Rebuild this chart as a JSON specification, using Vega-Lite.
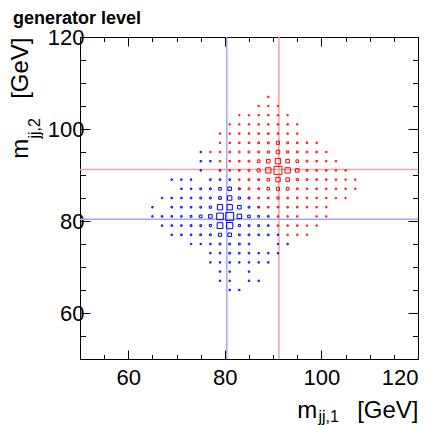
{
  "$schema": "https://vega.github.io/schema/vega-lite/v6.json",
  "width": 338,
  "height": 322,
  "autosize": "none",
  "padding": {"left": 80, "top": 37, "right": 22, "bottom": 66},
  "background": "white",
  "title": {"text": "generator level", "anchor": "start", "frame": "group", "dx": -67, "dy": 32, "offset": 16, "baseline": "alphabetic", "fontSize": 18, "fontWeight": "bold", "font": "Liberation Sans", "color": "#000"},
  "config": {
    "font": "Liberation Sans",
    "view": {"stroke": "#000", "strokeWidth": 1},
    "axis": {"grid": false, "domain": false, "tickColor": "#000", "tickWidth": 1, "labelColor": "#000", "titleColor": "#000", "labelFont": "Liberation Sans", "titleFont": "Liberation Sans", "labelFontSize": 22, "titleFontWeight": "normal", "labelOverlap": false}
  },
  "datasets": {
    "lines": [{"s": "W", "m": 80.4}, {"s": "Z", "m": 91.2}],
    "cells": [
      {"s":"W","x":75,"y":95,"n":25},
      {"s":"W","x":75,"y":93,"n":25},{"s":"W","x":77,"y":93,"n":25},
      {"s":"W","x":75,"y":91,"n":25},{"s":"W","x":79,"y":91,"n":25},
      {"s":"W","x":69,"y":89,"n":25},{"s":"W","x":71,"y":89,"n":25},{"s":"W","x":73,"y":89,"n":25},{"s":"W","x":77,"y":89,"n":30},{"s":"W","x":79,"y":89,"n":30},{"s":"W","x":81,"y":89,"n":30},
      {"s":"W","x":71,"y":87,"n":25},{"s":"W","x":73,"y":87,"n":30},{"s":"W","x":75,"y":87,"n":40},{"s":"W","x":77,"y":87,"n":40},{"s":"W","x":79,"y":87,"n":90},{"s":"W","x":81,"y":87,"n":160},{"s":"W","x":83,"y":87,"n":40},
      {"s":"W","x":67,"y":85,"n":25},{"s":"W","x":69,"y":85,"n":30},{"s":"W","x":71,"y":85,"n":30},{"s":"W","x":73,"y":85,"n":30},{"s":"W","x":75,"y":85,"n":40},{"s":"W","x":77,"y":85,"n":40},{"s":"W","x":79,"y":85,"n":90},{"s":"W","x":81,"y":85,"n":250},{"s":"W","x":83,"y":85,"n":60},{"s":"W","x":85,"y":85,"n":40},
      {"s":"W","x":65,"y":83,"n":25},{"s":"W","x":69,"y":83,"n":30},{"s":"W","x":71,"y":83,"n":30},{"s":"W","x":73,"y":83,"n":30},{"s":"W","x":75,"y":83,"n":40},{"s":"W","x":77,"y":83,"n":60},{"s":"W","x":79,"y":83,"n":360},{"s":"W","x":81,"y":83,"n":360},{"s":"W","x":83,"y":83,"n":160},{"s":"W","x":85,"y":83,"n":40},{"s":"W","x":87,"y":83,"n":30},
      {"s":"W","x":65,"y":81,"n":25},{"s":"W","x":67,"y":81,"n":30},{"s":"W","x":69,"y":81,"n":30},{"s":"W","x":71,"y":81,"n":30},{"s":"W","x":73,"y":81,"n":40},{"s":"W","x":75,"y":81,"n":90},{"s":"W","x":77,"y":81,"n":160},{"s":"W","x":79,"y":81,"n":560},{"s":"W","x":81,"y":81,"n":810},{"s":"W","x":83,"y":81,"n":250},{"s":"W","x":85,"y":81,"n":90},{"s":"W","x":87,"y":81,"n":40},{"s":"W","x":89,"y":81,"n":30},
      {"s":"W","x":67,"y":79,"n":25},{"s":"W","x":69,"y":79,"n":30},{"s":"W","x":71,"y":79,"n":30},{"s":"W","x":73,"y":79,"n":40},{"s":"W","x":75,"y":79,"n":40},{"s":"W","x":77,"y":79,"n":60},{"s":"W","x":79,"y":79,"n":420},{"s":"W","x":81,"y":79,"n":490},{"s":"W","x":83,"y":79,"n":60},{"s":"W","x":85,"y":79,"n":40},{"s":"W","x":87,"y":79,"n":40},{"s":"W","x":89,"y":79,"n":30},
      {"s":"W","x":69,"y":77,"n":25},{"s":"W","x":71,"y":77,"n":30},{"s":"W","x":73,"y":77,"n":30},{"s":"W","x":75,"y":77,"n":40},{"s":"W","x":77,"y":77,"n":40},{"s":"W","x":79,"y":77,"n":120},{"s":"W","x":81,"y":77,"n":160},{"s":"W","x":83,"y":77,"n":40},{"s":"W","x":85,"y":77,"n":40},{"s":"W","x":87,"y":77,"n":30},{"s":"W","x":89,"y":77,"n":30},{"s":"W","x":91,"y":77,"n":25},
      {"s":"W","x":73,"y":75,"n":25},{"s":"W","x":75,"y":75,"n":25},{"s":"W","x":77,"y":75,"n":30},{"s":"W","x":79,"y":75,"n":40},{"s":"W","x":81,"y":75,"n":40},{"s":"W","x":83,"y":75,"n":40},{"s":"W","x":85,"y":75,"n":30},{"s":"W","x":91,"y":75,"n":25},{"s":"W","x":93,"y":75,"n":25},
      {"s":"W","x":77,"y":73,"n":25},{"s":"W","x":79,"y":73,"n":30},{"s":"W","x":81,"y":73,"n":40},{"s":"W","x":83,"y":73,"n":30},{"s":"W","x":85,"y":73,"n":30},{"s":"W","x":87,"y":73,"n":25},{"s":"W","x":89,"y":73,"n":25},{"s":"W","x":91,"y":73,"n":25},
      {"s":"W","x":77,"y":71,"n":25},{"s":"W","x":79,"y":71,"n":25},{"s":"W","x":81,"y":71,"n":30},{"s":"W","x":83,"y":71,"n":25},{"s":"W","x":85,"y":71,"n":25},{"s":"W","x":87,"y":71,"n":25},{"s":"W","x":89,"y":71,"n":25},
      {"s":"W","x":79,"y":69,"n":25},{"s":"W","x":81,"y":69,"n":25},{"s":"W","x":85,"y":69,"n":25},
      {"s":"W","x":79,"y":67,"n":25},{"s":"W","x":81,"y":67,"n":25},{"s":"W","x":85,"y":67,"n":25},{"s":"W","x":87,"y":67,"n":25},
      {"s":"W","x":81,"y":65,"n":25},{"s":"W","x":83,"y":65,"n":25},

      {"s":"Z","x":89,"y":107,"n":20},
      {"s":"Z","x":87,"y":105,"n":20},{"s":"Z","x":89,"y":105,"n":20},{"s":"Z","x":91,"y":105,"n":20},
      {"s":"Z","x":83,"y":103,"n":20},{"s":"Z","x":85,"y":103,"n":20},{"s":"Z","x":87,"y":103,"n":22},{"s":"Z","x":89,"y":103,"n":22},{"s":"Z","x":91,"y":103,"n":22},{"s":"Z","x":93,"y":103,"n":20},
      {"s":"Z","x":81,"y":101,"n":20},{"s":"Z","x":83,"y":101,"n":22},{"s":"Z","x":85,"y":101,"n":25},{"s":"Z","x":87,"y":101,"n":25},{"s":"Z","x":89,"y":101,"n":25},{"s":"Z","x":91,"y":101,"n":25},{"s":"Z","x":93,"y":101,"n":25},{"s":"Z","x":95,"y":101,"n":20},
      {"s":"Z","x":79,"y":99,"n":20},{"s":"Z","x":81,"y":99,"n":22},{"s":"Z","x":83,"y":99,"n":25},{"s":"Z","x":85,"y":99,"n":25},{"s":"Z","x":87,"y":99,"n":30},{"s":"Z","x":89,"y":99,"n":30},{"s":"Z","x":91,"y":99,"n":30},{"s":"Z","x":93,"y":99,"n":25},{"s":"Z","x":95,"y":99,"n":22},
      {"s":"Z","x":79,"y":97,"n":22},{"s":"Z","x":81,"y":97,"n":25},{"s":"Z","x":83,"y":97,"n":30},{"s":"Z","x":85,"y":97,"n":30},{"s":"Z","x":87,"y":97,"n":40},{"s":"Z","x":89,"y":97,"n":40},{"s":"Z","x":91,"y":97,"n":120},{"s":"Z","x":93,"y":97,"n":40},{"s":"Z","x":95,"y":97,"n":30},{"s":"Z","x":97,"y":97,"n":30},{"s":"Z","x":99,"y":97,"n":22},
      {"s":"Z","x":77,"y":95,"n":22},{"s":"Z","x":79,"y":95,"n":25},{"s":"Z","x":81,"y":95,"n":30},{"s":"Z","x":83,"y":95,"n":30},{"s":"Z","x":85,"y":95,"n":40},{"s":"Z","x":87,"y":95,"n":40},{"s":"Z","x":89,"y":95,"n":60},{"s":"Z","x":91,"y":95,"n":160},{"s":"Z","x":93,"y":95,"n":60},{"s":"Z","x":95,"y":95,"n":40},{"s":"Z","x":97,"y":95,"n":30},{"s":"Z","x":99,"y":95,"n":30},{"s":"Z","x":101,"y":95,"n":22},
      {"s":"Z","x":79,"y":93,"n":25},{"s":"Z","x":81,"y":93,"n":30},{"s":"Z","x":83,"y":93,"n":30},{"s":"Z","x":85,"y":93,"n":40},{"s":"Z","x":87,"y":93,"n":90},{"s":"Z","x":89,"y":93,"n":160},{"s":"Z","x":91,"y":93,"n":360},{"s":"Z","x":93,"y":93,"n":160},{"s":"Z","x":95,"y":93,"n":90},{"s":"Z","x":97,"y":93,"n":40},{"s":"Z","x":99,"y":93,"n":30},{"s":"Z","x":101,"y":93,"n":25},{"s":"Z","x":103,"y":93,"n":22},
      {"s":"Z","x":79,"y":91,"n":25},{"s":"Z","x":81,"y":91,"n":30},{"s":"Z","x":83,"y":91,"n":30},{"s":"Z","x":85,"y":91,"n":40},{"s":"Z","x":87,"y":91,"n":120},{"s":"Z","x":89,"y":91,"n":360},{"s":"Z","x":91,"y":91,"n":810},{"s":"Z","x":93,"y":91,"n":360},{"s":"Z","x":95,"y":91,"n":160},{"s":"Z","x":97,"y":91,"n":40},{"s":"Z","x":99,"y":91,"n":30},{"s":"Z","x":101,"y":91,"n":30},{"s":"Z","x":103,"y":91,"n":25},{"s":"Z","x":105,"y":91,"n":22},
      {"s":"Z","x":83,"y":89,"n":25},{"s":"Z","x":85,"y":89,"n":40},{"s":"Z","x":87,"y":89,"n":40},{"s":"Z","x":89,"y":89,"n":90},{"s":"Z","x":91,"y":89,"n":250},{"s":"Z","x":93,"y":89,"n":160},{"s":"Z","x":95,"y":89,"n":60},{"s":"Z","x":97,"y":89,"n":40},{"s":"Z","x":99,"y":89,"n":30},{"s":"Z","x":101,"y":89,"n":30},{"s":"Z","x":103,"y":89,"n":25},{"s":"Z","x":105,"y":89,"n":22},{"s":"Z","x":107,"y":89,"n":20},
      {"s":"Z","x":83,"y":87,"n":25},{"s":"Z","x":85,"y":87,"n":40},{"s":"Z","x":87,"y":87,"n":40},{"s":"Z","x":89,"y":87,"n":90},{"s":"Z","x":91,"y":87,"n":120},{"s":"Z","x":93,"y":87,"n":90},{"s":"Z","x":95,"y":87,"n":40},{"s":"Z","x":97,"y":87,"n":30},{"s":"Z","x":99,"y":87,"n":30},{"s":"Z","x":101,"y":87,"n":25},{"s":"Z","x":103,"y":87,"n":25},{"s":"Z","x":105,"y":87,"n":22},{"s":"Z","x":107,"y":87,"n":20},
      {"s":"Z","x":85,"y":85,"n":30},{"s":"Z","x":87,"y":85,"n":30},{"s":"Z","x":89,"y":85,"n":30},{"s":"Z","x":91,"y":85,"n":60},{"s":"Z","x":93,"y":85,"n":30},{"s":"Z","x":95,"y":85,"n":30},{"s":"Z","x":97,"y":85,"n":30},{"s":"Z","x":99,"y":85,"n":25},{"s":"Z","x":101,"y":85,"n":25},{"s":"Z","x":103,"y":85,"n":22},{"s":"Z","x":105,"y":85,"n":20},
      {"s":"Z","x":87,"y":83,"n":25},{"s":"Z","x":89,"y":83,"n":30},{"s":"Z","x":91,"y":83,"n":30},{"s":"Z","x":93,"y":83,"n":30},{"s":"Z","x":95,"y":83,"n":25},{"s":"Z","x":97,"y":83,"n":25},{"s":"Z","x":99,"y":83,"n":25},{"s":"Z","x":101,"y":83,"n":22},
      {"s":"Z","x":91,"y":81,"n":25},{"s":"Z","x":93,"y":81,"n":25},{"s":"Z","x":95,"y":81,"n":25},{"s":"Z","x":99,"y":81,"n":22},{"s":"Z","x":101,"y":81,"n":22},
      {"s":"Z","x":91,"y":79,"n":25},{"s":"Z","x":93,"y":79,"n":25},{"s":"Z","x":95,"y":79,"n":25},{"s":"Z","x":97,"y":79,"n":22},{"s":"Z","x":99,"y":79,"n":22},
      {"s":"Z","x":93,"y":77,"n":22},{"s":"Z","x":95,"y":77,"n":22},{"s":"Z","x":97,"y":77,"n":22}
    ]
  },
  "layer": [
    {
      "data": {"name": "lines"},
      "mark": {"type": "rule", "strokeWidth": 1.5},
      "encoding": {
        "x": {"field": "m", "type": "quantitative", "scale": {"domain": [50, 120], "nice": false, "zero": false},
          "axis": {"orient": "top", "values": [50,55,60,65,70,75,80,85,90,95,100,105,110,115,120], "labels": false,
            "tickSize": {"condition": {"test": "datum.value % 20 === 0", "value": -9}, "value": -4.5},
            "title": "jj,1", "titleFontSize": 16, "titleX": 238, "titleY": 384, "titleAlign": "left", "titleBaseline": "alphabetic", "titleAngle": 0}},
        "color": {"field": "s", "type": "nominal", "scale": {"domain": ["W", "Z"], "range": ["#a3a9f2", "#f2a3a3"]}, "legend": null}
      }
    },
    {
      "data": {"name": "lines"},
      "mark": {"type": "rule", "strokeWidth": 1.5},
      "encoding": {
        "y": {"field": "m", "type": "quantitative", "scale": {"domain": [50, 120], "nice": false, "zero": false},
          "axis": {"orient": "right", "values": [50,55,60,65,70,75,80,85,90,95,100,105,110,115,120], "labels": false,
            "tickSize": {"condition": {"test": "datum.value % 20 === 0", "value": -10}, "value": -5.5},
            "title": "jj,2", "titleFontSize": 16, "titleX": -379, "titleY": 101, "titleAlign": "left", "titleBaseline": "alphabetic", "titleAngle": 270}},
        "color": {"field": "s", "type": "nominal", "scale": {"domain": ["W", "Z"], "range": ["#a3a9f2", "#f2a3a3"]}, "legend": null}
      }
    },
    {
      "data": {"name": "cells"},
      "mark": {"type": "point", "shape": "square", "filled": false, "strokeWidth": 1, "opacity": 1},
      "encoding": {
        "x": {"field": "x", "type": "quantitative", "scale": {"domain": [50, 120], "nice": false, "zero": false},
          "axis": {"orient": "bottom", "values": [50,55,60,65,70,75,80,85,90,95,100,105,110,115,120],
            "labelExpr": "datum.value % 20 === 0 ? datum.label : ''", "labelFlush": true, "labelPadding": 17,
            "tickSize": {"condition": {"test": "datum.value % 20 === 0", "value": -9}, "value": -4.5},
            "title": "m\u00a0\u00a0\u00a0\u00a0\u00a0\u00a0[GeV]", "titleFontSize": 24, "titleX": 338, "titleY": 58, "titleAlign": "right", "titleBaseline": "alphabetic"}},
        "y": {"field": "y", "type": "quantitative", "scale": {"domain": [50, 120], "nice": false, "zero": false},
          "axis": {"orient": "left", "values": [50,55,60,65,70,75,80,85,90,95,100,105,110,115,120],
            "labelExpr": "datum.value % 20 === 0 ? datum.label : ''", "labelPadding": 6,
            "tickSize": {"condition": {"test": "datum.value % 20 === 0", "value": -10}, "value": -5.5},
            "title": "m\u00a0\u00a0\u00a0\u00a0\u00a0\u00a0[GeV]", "titleFontSize": 24, "titleX": -53, "titleY": 0, "titleAlign": "right", "titleBaseline": "alphabetic", "titleAngle": 270}},
        "size": {"field": "n", "type": "quantitative", "scale": {"domain": [20, 810], "range": [1.5, 64], "zero": false, "clamp": true}, "legend": null},
        "color": {"field": "s", "type": "nominal", "scale": {"domain": ["W", "Z"], "range": ["#0000ff", "#ff0000"]}, "legend": null}
      }
    }
  ],
  "resolve": {"scale": {"color": "independent"}, "axis": {"x": "independent", "y": "independent"}}
}
